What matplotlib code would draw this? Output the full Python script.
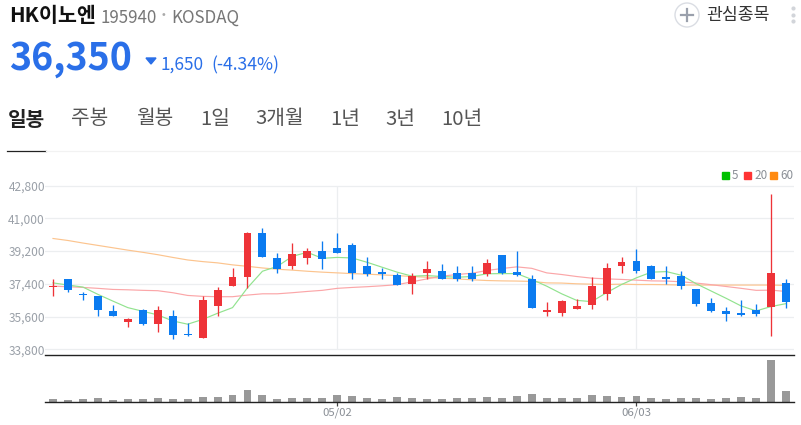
import numpy as np
import matplotlib
matplotlib.use("Agg")
import matplotlib.pyplot as plt
from matplotlib.patches import Circle, Polygon, Rectangle

plt.rcParams['font.family'] = ['Noto Sans CJK KR', 'DejaVu Sans']

W, H = 801, 425

# daily candles
opens = [37240, 37690, 36850, 36710, 35930, 35310, 35950, 35180, 35620, 34650,
         34420, 36160, 37290, 37800, 40180, 38820, 38380, 38800, 39220, 39360,
         39550, 38360, 38040, 37910, 37380, 38020, 38130, 38020, 38020, 37950,
         39000, 38040, 37640, 35840, 35780, 36020, 36240, 36820, 38380, 38650,
         38360, 37750, 37820, 37110, 36330, 35910, 35820, 35950, 36130, 37470]
closes = [37290, 37050, 36780, 35950, 35620, 35450, 35180, 35950, 34580, 34580,
          36490, 37040, 37750, 40180, 38890, 38200, 39020, 39220, 38750, 39110,
          38020, 37960, 37960, 37360, 37820, 38240, 37690, 37650, 37650, 38560,
          38020, 37910, 36090, 35950, 36470, 36160, 37260, 38270, 38620, 38110,
          37690, 37650, 37290, 36270, 35930, 35730, 35670, 35750, 38000, 36380]
highs = [37690, 37690, 36930, 36710, 36220, 35510, 36020, 36160, 35950, 35240,
         36710, 37200, 38290, 40250, 40450, 39090, 39640, 39360, 39760, 40200,
         39640, 38890, 38290, 38000, 38000, 38650, 38470, 38380, 38380, 38780,
         39000, 39200, 37910, 36380, 36510, 36550, 37750, 38560, 38890, 39330,
         38450, 38380, 38110, 37110, 36600, 36110, 36490, 36270, 42330, 37690]
lows = [36730, 36930, 36510, 35620, 35620, 35040, 35130, 34730, 34380, 34530,
        34420, 35620, 37290, 37180, 38890, 38000, 38240, 38470, 38240, 39110,
        37690, 37820, 37650, 37330, 36820, 37690, 37690, 37550, 37550, 37820,
        37960, 37820, 36050, 35620, 35620, 36020, 36020, 36490, 38020, 38000,
        37640, 37380, 37090, 36160, 35840, 35360, 35640, 35620, 34550, 36050]
volumes = [7, 5, 7, 10, 5, 7, 7, 10, 7, 7, 13, 13, 19, 35, 21, 7, 10, 10, 10, 19,
           16, 10, 7, 13, 10, 9, 7, 10, 10, 13, 10, 16, 22, 10, 10, 10, 19, 16,
           13, 16, 10, 7, 10, 10, 7, 10, 13, 10, 124, 31]

ma5 = [37450, 37330, 37220, 36820, 36450, 36090, 35890, 35690, 35360, 35180,
       35440, 35780, 36090, 37180, 38090, 38360, 38910, 39130, 38800, 38850,
       38820, 38580, 38310, 38040, 37820, 37850, 37800, 37760, 37800, 37950,
       37960, 37960, 37640, 37270, 36850, 36490, 36420, 36910, 37360, 37730,
       38040, 38070, 37870, 37400, 37000, 36600, 36180, 35910, 36150, 36310]
ma20 = [37270, 37240, 37200, 37150, 37090, 37070, 37040, 37020, 36910, 36760,
        36710, 36690, 36690, 36780, 36850, 36850, 36910, 36980, 37040, 37150,
        37200, 37240, 37290, 37350, 37510, 37670, 37820, 37910, 37980, 38130,
        38240, 38330, 38250, 38000, 37910, 37800, 37710, 37670, 37640, 37600,
        37560, 37550, 37510, 37440, 37350, 37250, 37150, 37040, 37050, 36980]
ma60 = [39890, 39780, 39640, 39510, 39380, 39250, 39130, 39000, 38850, 38710,
        38620, 38550, 38440, 38360, 38270, 38200, 38150, 38090, 38040, 38000,
        37960, 37930, 37890, 37850, 37800, 37760, 37710, 37670, 37620, 37580,
        37560, 37550, 37530, 37450, 37440, 37400, 37380, 37360, 37380, 37360,
        37360, 37350, 37330, 37330, 37330, 37330, 37330, 37330, 37330, 37310]

price_ticks = [33800, 35600, 37400, 39200, 41000, 42800]
date_pos = [19, 39]
date_labels = ['05/02', '06/03']
tabs = ['일봉', '주봉', '월봉', '1일', '3개월', '1년', '3년', '10년']
tab_x = [8, 71, 136, 200, 255, 330, 385, 441]

RED = '#EE3338'
BLUE = '#0B7BF0'
GRID = '#ECEEF0'
GREY = '#9AA0A8'


def px_axes(fig, x0, y0, x1, y1):
    # pixel box with the origin at top left
    return fig.add_axes([x0 / W, 1 - y1 / H, (x1 - x0) / W, (y1 - y0) / H])


def label(fig, x, y, s, **kw):
    kw.setdefault('va', 'center')
    return fig.text(x / W, 1 - y / H, s, **kw)


fig = plt.figure(figsize=(W / 100, H / 100), dpi=100)
fig.patch.set_facecolor('white')

# price panel
ax = px_axes(fig, 45, 170, 794, 354.5)
ax.set_xlim(-0.535, 49.53)
ax.set_ylim(33514, 43654)

for v in price_ticks:
    ax.axhline(v, color=GRID, lw=0.9, zorder=1)
ax.vlines(date_pos, 33800, 42800, color=GRID, lw=0.9, zorder=1)

xs = np.arange(len(opens))
ax.plot(xs, ma60, color='#FCC48E', lw=0.85, zorder=2)
ax.plot(xs, ma20, color='#FBA6A8', lw=0.85, zorder=2)
ax.plot(xs, ma5, color='#92E38F', lw=0.85, zorder=2)

colors = [RED if c >= o else BLUE for o, c in zip(opens, closes)]
ax.vlines(xs, lows, highs, color=colors, lw=0.95, zorder=3)
tops = np.maximum(opens, closes)
bottoms = np.minimum(opens, closes)
ax.bar(xs, tops - bottoms, bottom=bottoms, width=0.53, color=colors, zorder=4)

ax.set_yticks(price_ticks)
ax.set_yticklabels([f'{v:,}' for v in price_ticks], color=GREY, fontsize=8.6)
ax.tick_params(axis='y', length=0, pad=0)
ax.set_xticks([])
for side in ['top', 'left', 'right']:
    ax.spines[side].set_visible(False)
ax.spines['bottom'].set_color('#222222')
ax.spines['bottom'].set_linewidth(1.0)
ax.patch.set_alpha(0)

# volume panel
vx = px_axes(fig, 45, 354.5, 794, 401.5)
vx.set_xlim(-0.535, 49.53)
vx.set_ylim(0, 141)
vx.bar(xs, volumes, width=0.53, color='#999999')
vx.set_yticks([])
vx.set_xticks(date_pos)
vx.set_xticklabels(date_labels, color='#8A8F96', fontsize=8.2)
vx.tick_params(axis='x', length=3, width=0.9, color='#444444', pad=1)
for side in ['top', 'left', 'right']:
    vx.spines[side].set_visible(False)
vx.spines['bottom'].set_color('#222222')
vx.spines['bottom'].set_linewidth(1.0)
vx.patch.set_alpha(0)

# header
label(fig, 9, 16, 'HK이노엔', fontsize=14.9, fontweight='bold', color='#111111')
label(fig, 100, 18, '195940', fontsize=12.2, color='#777777')
label(fig, 163, 16, '·', fontsize=12, fontweight='bold', color='#AAAAAA', ha='center')
label(fig, 171, 18, 'KOSDAQ', fontsize=12.2, color='#777777')
label(fig, 9, 58, '36,350', fontsize=27, fontweight='bold', color='#2A6FE8')
label(fig, 161, 65, '1,650', fontsize=12.4, color='#2A6FE8')
label(fig, 211, 65, '(-4.34%)', fontsize=12.6, color='#2A6FE8')
label(fig, 706, 15, '관심종목', fontsize=12.4, color='#333333')

for i, (x, t) in enumerate(zip(tab_x, tabs)):
    label(fig, x, 119, t, fontsize=14.6, color='#222222' if i == 0 else '#555555',
          fontweight='bold' if i == 0 else 'normal')

# overlay for the small page furniture
ov = fig.add_axes([0, 0, 1, 1], zorder=-1)
ov.set_xlim(0, W)
ov.set_ylim(H, 0)
ov.axis('off')
ov.plot([7, 46], [150.5, 150.5], color='#222222', lw=0.9)
ov.plot([46, 800], [150.5, 150.5], color='#F2F2F2', lw=0.9)
ov.add_patch(Polygon([[146, 58], [156, 58], [151, 64]], color='#2A6FE8'))
ov.add_patch(Circle((687, 15), 12, fc='white', ec='#DADDE3', lw=1.0))
ov.plot([681, 693], [15, 15], color='#9AA0AC', lw=1.6)
ov.plot([687, 687], [9, 21], color='#9AA0AC', lw=1.6)
ov.scatter([793, 793, 793], [8, 15, 21], s=9, color='#D2D5DA', linewidths=0)

# moving average legend
for x0, c, t in [(722, '#00C000', '5'), (744, '#FF3333', '20'), (770, '#FF8A10', '60')]:
    ov.add_patch(Rectangle((x0, 172), 7, 7, color=c))
    label(fig, x0 + 10, 175.5, t, fontsize=8.4, color='#8A8F96')

fig.savefig('out.png', dpi=100)
